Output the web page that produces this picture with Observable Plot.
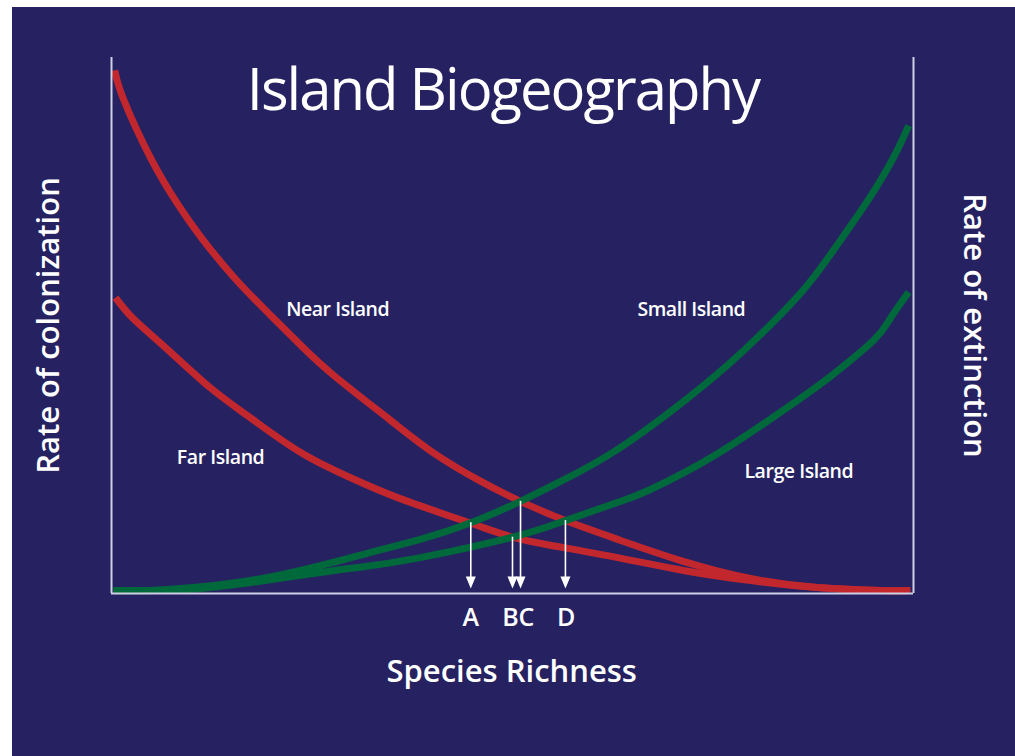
<!DOCTYPE html>
<html><head><meta charset="utf-8">
<script src="https://cdn.jsdelivr.net/npm/d3@7"></script>
<script src="https://cdn.jsdelivr.net/npm/@observablehq/plot@0.6"></script>
<style>
html,body{margin:0;padding:0;background:#fff;}
#chart{position:absolute;left:12px;top:7px;width:1003px;height:749px;background:#262262;}
#chart svg{display:block;}
</style></head><body><div id="chart"></div>
<script>
// Colonization curves (species richness 0-100, rate 0-100)
const nearX = [0.4, 1.5, 4.9, 8.2, 11.1, 15.2, 19.5, 23.6, 27.7, 34.8, 40.1, 45.6, 51.0, 56.6, 63.1, 71.3, 79.7, 88.0, 95.9, 99.6];
const nearY = [97.6, 92.2, 81.2, 72.8, 66.6, 59.1, 52.4, 46.3, 40.7, 32.3, 26.3, 21.3, 17.2, 13.6, 10.1, 6.0, 2.8, 1.1, 0.56, 0.56];
const farX = [0.5, 2.7, 7.0, 12.3, 17.3, 23.6, 29.8, 36.0, 44.8, 50.0, 54.7, 63.1, 71.3, 79.7, 88.0, 95.9, 99.6];
const farY = [55.2, 51.3, 45.5, 38.4, 32.8, 26.3, 21.6, 17.7, 13.1, 10.5, 9.0, 6.7, 4.3, 2.4, 1.1, 0.56, 0.56];
// Extinction curves
const smallX = [0.25, 7.0, 19.5, 31.9, 38.5, 44.8, 51.0, 56.0, 63.1, 71.8, 78.8, 85.9, 90.0, 94.3, 97.5, 99.4];
const smallY = [0.56, 0.75, 3.0, 7.5, 10.1, 13.2, 17.2, 20.9, 26.9, 36.4, 45.3, 56.0, 64.0, 73.3, 81.3, 87.3];
const largeX = [0.25, 11.1, 23.6, 31.0, 38.5, 50.0, 56.6, 63.5, 67.2, 75.6, 85.9, 90.0, 95.0, 97.1, 99.4];
const largeY = [0.56, 0.93, 3.4, 4.9, 6.7, 10.5, 13.6, 17.2, 19.4, 26.1, 36.4, 40.9, 47.2, 51.3, 56.2];
// Equilibrium arrows
const eqLabels = ["A", "B", "C", "D"];
const eqX = [44.8, 50.0, 51.0, 56.6];
const eqY = [13.2, 10.5, 17.2, 13.6];
const eqLabelX = [44.8, 49.75, 51.75, 56.7];
const curveNames = ["Near Island", "Far Island", "Small Island", "Large Island"];

const toRows = (name, xs, ys) => xs.map((x, i) => ({series: name, x, y: ys[i]}));
const colon = [...toRows("Near Island", nearX, nearY), ...toRows("Far Island", farX, farY)];
const extinct = [...toRows("Small Island", smallX, smallY), ...toRows("Large Island", largeX, largeY)];
const arrows = eqLabels.map((l, i) => ({label: l, x: eqX[i], y: eqY[i], lx: eqLabelX[i]}));

const downTriangle = {
  draw(ctx, size) {
    const r = Math.sqrt(size / Math.PI);
    ctx.moveTo(0, 0);
    ctx.lineTo(-r, -2.4 * r);
    ctx.lineTo(r, -2.4 * r);
    ctx.closePath();
  }
};

const RED = "#c1272d", GREEN = "#00693b", AXIS = "#cfcfe4";
const labelPos = {"Near Island": [28.2, 53.0], "Far Island": [13.6, 25.4], "Small Island": [72.3, 53.0], "Large Island": [85.7, 22.7]};

const chart = Plot.plot({
  width: 1003,
  height: 749,
  marginLeft: 99,
  marginRight: 102,
  marginTop: 50,
  marginBottom: 163,
  x: {domain: [0, 100], axis: null},
  y: {domain: [0, 100], axis: null},
  style: {background: "transparent", fontFamily: "'Open Sans', sans-serif", color: "white"},
  marks: [
    Plot.line(colon, {x: "x", y: "y", z: "series", stroke: RED, strokeWidth: 7, curve: "natural", strokeLinecap: "butt"}),
    Plot.line(extinct, {x: "x", y: "y", z: "series", stroke: GREEN, strokeWidth: 7, curve: "natural", strokeLinecap: "butt"}),
    Plot.ruleX([0, 100], {y1: 0, y2: 100, stroke: AXIS, strokeWidth: 2}),
    Plot.ruleY([0], {x1: 0, x2: 100, stroke: AXIS, strokeWidth: 2}),
    Plot.ruleX(arrows, {x: "x", y1: "y", y2: 2.5, stroke: "white", strokeWidth: 1.6}),
    Plot.dot(arrows, {x: "x", y: 0.93, symbol: downTriangle, r: 5, fill: "white", stroke: null}),
    Plot.text(arrows, {x: "lx", y: -4.57, text: "label", fill: "white", fontSize: 25, fontWeight: 600}),
    Plot.text(curveNames, {x: d => labelPos[d][0], y: d => labelPos[d][1], text: d => d, fill: "white", fontSize: 19.5, fontWeight: 600}),
    Plot.text(["Island Biogeography"], {x: 48.8, y: 93.7, text: d => d, fill: "white", fontSize: 58, fontWeight: 400}),
    Plot.text(["Species Richness"], {x: 49.9, y: -14.7, text: d => d, fill: "white", fontSize: 31, fontWeight: 600}),
    Plot.text(["Rate of colonization"], {x: -7.75, y: 50, text: d => d, rotate: -90, fill: "white", fontSize: 31, fontWeight: 600}),
    Plot.text(["Rate of extinction"], {x: 107.5, y: 50, text: d => d, rotate: 90, fill: "white", fontSize: 31, fontWeight: 600})
  ]
});
// tighten tracking to mimic the original condensed typeface
chart.querySelectorAll("text").forEach(t => {
  const s = t.textContent;
  if (s === "Island Biogeography") t.style.letterSpacing = "-2px";
  else if (curveNames.includes(s)) t.style.letterSpacing = "-0.45px";
});
document.getElementById("chart").appendChild(chart);
</script>
</body></html>
